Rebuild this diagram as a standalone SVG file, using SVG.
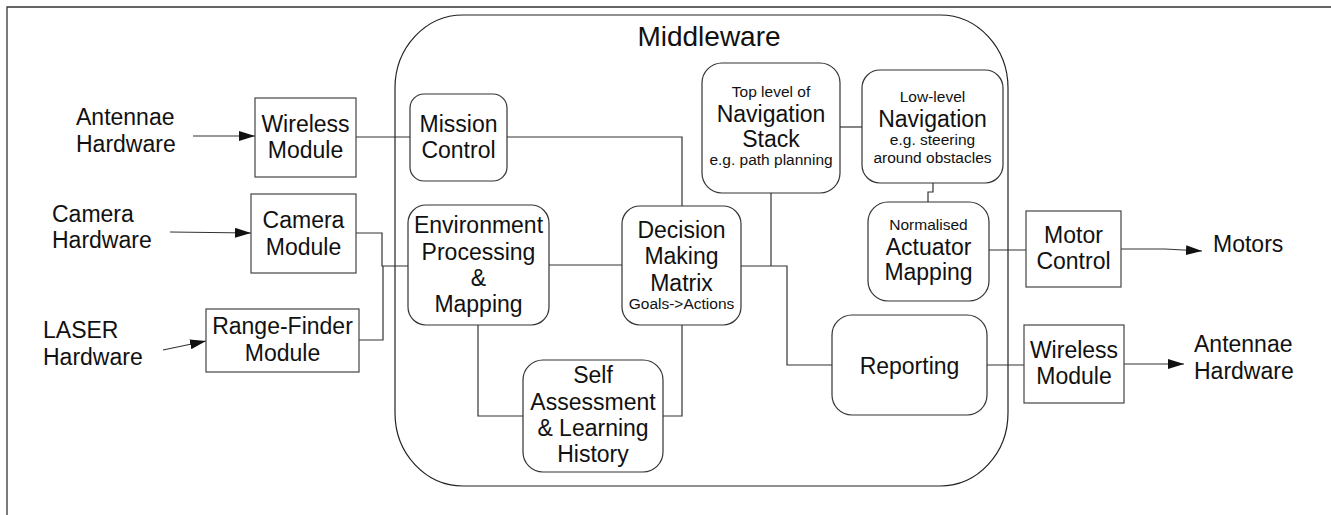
<svg xmlns="http://www.w3.org/2000/svg" width="1331" height="515" viewBox="0 0 1331 515">
  <style>
    text { font-family: "Liberation Sans", Arial, sans-serif; fill: #111; }
    .lbl { font-size: 23px; text-anchor: middle; }
    .ext { font-size: 23px; }
    .sm { font-size: 15.5px; text-anchor: middle; }
    .title { font-size: 28px; text-anchor: middle; }
    .box { fill: #fff; stroke: #444; stroke-width: 1.2; }
    .rbox { fill: #fff; stroke: #333; stroke-width: 1.2; }
    .wire { fill: none; stroke: #333; stroke-width: 1.2; }
    .frame { fill: none; stroke: #333; stroke-width: 1.3; }
  </style>
  <defs>
    <marker id="arrow" markerUnits="userSpaceOnUse" markerWidth="16" markerHeight="10" refX="16" refY="5" orient="auto">
      <path d="M0,0 L16,5 L0,10 z" fill="#111"/>
    </marker>
  </defs>

  <rect width="1331" height="515" fill="#fff"/>
  <!-- page frame: top and left edges only -->
  <path class="frame" d="M7,515 V7 H1331"/>

  <!-- Middleware container -->
  <g id="middleware">
    <rect x="395" y="15" width="613" height="471" rx="68" ry="73" fill="none" stroke="#222" stroke-width="1.2"/>
    <text class="title" x="709" y="46">Middleware</text>
  </g>

  <!-- connectors -->
  <g id="connectors">
    <line class="wire" x1="193" y1="136" x2="255" y2="136" marker-end="url(#arrow)"/>
    <line class="wire" x1="170" y1="232" x2="251" y2="233" marker-end="url(#arrow)"/>
    <line class="wire" x1="163" y1="350" x2="206" y2="341" marker-end="url(#arrow)"/>
    <polyline class="wire" points="1121,249 1165,249 1202,251" marker-end="url(#arrow)"/>
    <line class="wire" x1="1124" y1="364" x2="1184" y2="364" marker-end="url(#arrow)"/>

    <path class="wire" d="M356,137 H410"/>
    <path class="wire" d="M507,137 H682 V206"/>
    <path class="wire" d="M356,233 H382 V266 H408"/>
    <path class="wire" d="M359,340 H383 V266"/>
    <path class="wire" d="M549,265 H622"/>
    <path class="wire" d="M478,325 V416 H523"/>
    <path class="wire" d="M682,325 V416 H663"/>
    <path class="wire" d="M741,266 H787 V365 H832"/>
    <path class="wire" d="M771,193 V266"/>
    <path class="wire" d="M840,127 H862"/>
    <path class="wire" d="M933,183 V192 H928 V202"/>
    <path class="wire" d="M989,250 H1026"/>
    <path class="wire" d="M987,365 H1024"/>
  </g>

  <!-- external hardware labels -->
  <g id="antennae-in">
    <text class="ext" x="76" y="125">Antennae</text>
    <text class="ext" x="76" y="152">Hardware</text>
  </g>
  <g id="camera-hw">
    <text class="ext" x="52" y="222">Camera</text>
    <text class="ext" x="52" y="248">Hardware</text>
  </g>
  <g id="laser-hw">
    <text class="ext" x="43" y="338">LASER</text>
    <text class="ext" x="43" y="365">Hardware</text>
  </g>
  <g id="motors">
    <text class="ext" x="1213" y="252">Motors</text>
  </g>
  <g id="antennae-out">
    <text class="ext" x="1194" y="352">Antennae</text>
    <text class="ext" x="1194" y="379">Hardware</text>
  </g>

  <!-- hardware interface modules -->
  <g id="wireless-in">
    <rect class="box" x="255" y="98" width="101" height="79"/>
    <text class="lbl" x="305.5" y="132">Wireless</text>
    <text class="lbl" x="305.5" y="158">Module</text>
  </g>
  <g id="camera-module">
    <rect class="box" x="251" y="194" width="105" height="79"/>
    <text class="lbl" x="303.5" y="228">Camera</text>
    <text class="lbl" x="303.5" y="255">Module</text>
  </g>
  <g id="range-finder">
    <rect class="box" x="206" y="309" width="153" height="63"/>
    <text class="lbl" x="282.5" y="334">Range-Finder</text>
    <text class="lbl" x="282.5" y="361">Module</text>
  </g>
  <g id="motor-control">
    <rect class="box" x="1026" y="211" width="95" height="76"/>
    <text class="lbl" x="1073.5" y="243">Motor</text>
    <text class="lbl" x="1073.5" y="269">Control</text>
  </g>
  <g id="wireless-out">
    <rect class="box" x="1024" y="325" width="100" height="78"/>
    <text class="lbl" x="1074" y="358">Wireless</text>
    <text class="lbl" x="1074" y="384">Module</text>
  </g>

  <!-- middleware components -->
  <g id="mission-control">
    <rect class="rbox" x="410" y="94" width="97" height="87" rx="14"/>
    <text class="lbl" x="458.5" y="132">Mission</text>
    <text class="lbl" x="458.5" y="158">Control</text>
  </g>
  <g id="environment">
    <rect class="rbox" x="408" y="205" width="141" height="120" rx="18"/>
    <text class="lbl" x="478.5" y="233">Environment</text>
    <text class="lbl" x="478.5" y="260">Processing</text>
    <text class="lbl" x="478.5" y="286">&amp;</text>
    <text class="lbl" x="478.5" y="312">Mapping</text>
  </g>
  <g id="decision">
    <rect class="rbox" x="622" y="206" width="119" height="119" rx="18"/>
    <text class="lbl" x="681.5" y="238">Decision</text>
    <text class="lbl" x="681.5" y="264">Making</text>
    <text class="lbl" x="681.5" y="291">Matrix</text>
    <text x="681.5" y="309" font-size="15.5" text-anchor="middle">Goals-&gt;Actions</text>
  </g>
  <g id="self-assessment">
    <rect class="rbox" x="523" y="360" width="140" height="112" rx="20"/>
    <text class="lbl" x="593" y="383">Self</text>
    <text class="lbl" x="593" y="410">Assessment</text>
    <text class="lbl" x="593" y="436">&amp; Learning</text>
    <text class="lbl" x="593" y="462">History</text>
  </g>
  <g id="top-navigation">
    <rect class="rbox" x="702" y="63" width="138" height="130" rx="20"/>
    <text class="sm" x="771" y="97">Top level of</text>
    <text class="lbl" x="771" y="122" font-size="24">Navigation</text>
    <text class="lbl" x="771" y="147" font-size="24">Stack</text>
    <text class="sm" x="771" y="165">e.g. path planning</text>
  </g>
  <g id="low-navigation">
    <rect class="rbox" x="862" y="70" width="141" height="113" rx="18"/>
    <text class="sm" x="932.5" y="102">Low-level</text>
    <text class="lbl" x="932.5" y="127" font-size="24">Navigation</text>
    <text class="sm" x="932.5" y="145">e.g. steering</text>
    <text class="sm" x="932.5" y="163">around obstacles</text>
  </g>
  <g id="actuator-mapping">
    <rect class="rbox" x="868" y="202" width="121" height="99" rx="20"/>
    <text class="sm" x="928.5" y="230">Normalised</text>
    <text class="lbl" x="928.5" y="255">Actuator</text>
    <text class="lbl" x="928.5" y="280">Mapping</text>
  </g>
  <g id="reporting">
    <rect class="rbox" x="832" y="315" width="155" height="100" rx="20"/>
    <text class="lbl" x="909.5" y="374">Reporting</text>
  </g>
</svg>
